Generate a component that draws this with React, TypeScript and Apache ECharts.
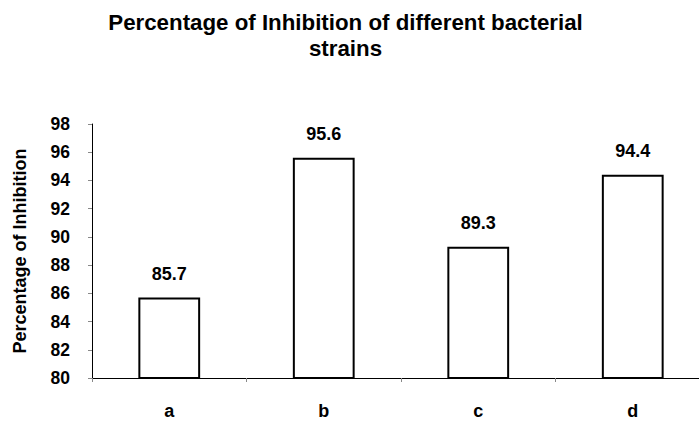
import React, { useEffect, useRef } from "react";
import * as echarts from "echarts";

const categories = ["a", "b", "c", "d"];
const values = [85.7, 95.6, 89.3, 94.4];
const yTicks = { min: 80, max: 98, interval: 2 };
const titleText = "Percentage of Inhibition of different bacterial\nstrains";
const yAxisName = "Percentage of Inhibition";

export default function App() {
  const ref = useRef<HTMLDivElement>(null);
  useEffect(() => {
    if (!ref.current) return;
    const chart = echarts.init(ref.current, null, { renderer: "svg" });
    const font = "'Liberation Sans', Arial, sans-serif";
    chart.setOption({
      animation: false,
      backgroundColor: "#ffffff",
      title: {
        text: titleText,
        left: 340.5,
        top: 5,
        textAlign: "center",
        textStyle: { fontFamily: font, fontWeight: "bold", fontSize: 22.3, color: "#000", lineHeight: 25.5 },
      },
      grid: { left: 92, top: 124, width: 618, height: 254, outerBoundsMode: "none", containLabel: false },
      xAxis: {
        type: "category",
        data: categories,
        boundaryGap: true,
        axisLine: { lineStyle: { color: "#000", width: 1 } },
        axisTick: { show: true, alignWithLabel: false, length: 4, lineStyle: { color: "#888" } },
        axisLabel: { margin: 24, fontFamily: font, fontWeight: "bold", fontSize: 18, color: "#000" },
      },
      yAxis: {
        type: "value",
        min: yTicks.min,
        max: yTicks.max,
        interval: yTicks.interval,
        name: yAxisName,
        nameLocation: "middle",
        nameGap: 63,
        nameTextStyle: { fontFamily: font, fontWeight: "bold", fontSize: 18, color: "#000" },
        splitLine: { show: false },
        axisLine: { show: true, lineStyle: { color: "#000", width: 1 } },
        axisTick: { show: true, length: 4, lineStyle: { color: "#888" } },
        axisLabel: { margin: 22, fontFamily: font, fontWeight: "bold", fontSize: 17.5, color: "#000" },
      },
      series: [
        {
          type: "bar",
          data: values,
          barWidth: "40%",
          itemStyle: { color: "#ffffff", borderColor: "#000", borderWidth: 2 },
          label: {
            show: true,
            position: "top",
            distance: 15,
            fontFamily: font,
            fontWeight: "bold",
            fontSize: 18,
            color: "#000",
          },
        },
      ],
    });
    return () => chart.dispose();
  }, []);
  return <div ref={ref} style={{ width: 699, height: 422, position: "absolute", left: 0, top: 0 }} />;
}
